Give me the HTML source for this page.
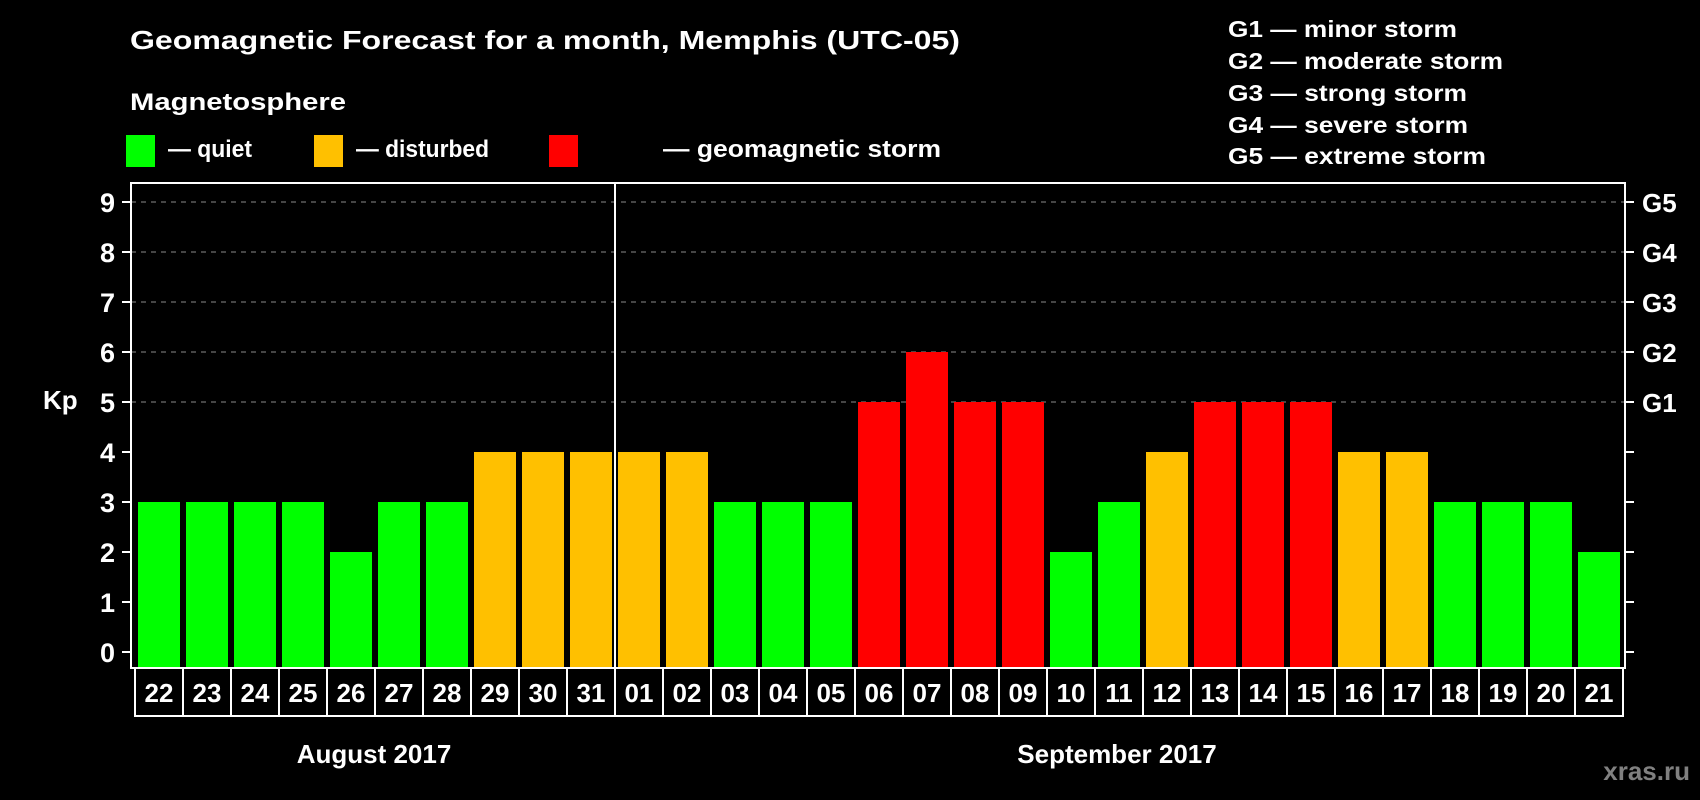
<!DOCTYPE html>
<html><head><meta charset="utf-8"><style>
html,body{margin:0;padding:0;background:#000;}
svg{display:block;font-family:"Liberation Sans",Arial,sans-serif;font-weight:bold;}
</style></head><body>
<svg id="chart" width="1700" height="800" viewBox="0 0 1700 800">
<rect x="0" y="0" width="1700" height="800" fill="#000"/>
<text x="130" y="49" font-size="26" fill="#fff" textLength="830" lengthAdjust="spacingAndGlyphs">Geomagnetic Forecast for a month, Memphis (UTC-05)</text>
<text x="130" y="110" font-size="24" fill="#fff" textLength="216" lengthAdjust="spacingAndGlyphs">Magnetosphere</text>
<g>
<rect x="126" y="135" width="29" height="32" fill="#00ff00"/>
<text x="168" y="157" font-size="24" fill="#fff" textLength="84" lengthAdjust="spacingAndGlyphs">— quiet</text></g>
<g>
<rect x="314" y="135" width="29" height="32" fill="#ffc000"/>
<text x="356" y="157" font-size="24" fill="#fff" textLength="133" lengthAdjust="spacingAndGlyphs">— disturbed</text></g>
<g>
<rect x="549" y="135" width="29" height="32" fill="#ff0000"/>
<text x="663" y="157" font-size="24" fill="#fff" textLength="278" lengthAdjust="spacingAndGlyphs">— geomagnetic storm</text></g>
<g font-size="23" fill="#fff">
<text x="1228" y="37" textLength="229" lengthAdjust="spacingAndGlyphs">G1 — minor storm</text>
<text x="1228" y="69" textLength="275" lengthAdjust="spacingAndGlyphs">G2 — moderate storm</text>
<text x="1228" y="101" textLength="239" lengthAdjust="spacingAndGlyphs">G3 — strong storm</text>
<text x="1228" y="133" textLength="240" lengthAdjust="spacingAndGlyphs">G4 — severe storm</text>
<text x="1228" y="164" textLength="258" lengthAdjust="spacingAndGlyphs">G5 — extreme storm</text>
</g>
<text x="43" y="409" font-size="26" fill="#fff">Kp</text>
<text x="374" y="763" font-size="26" fill="#fff" text-anchor="middle">August 2017</text>
<text x="1117" y="763" font-size="26" fill="#fff" text-anchor="middle">September 2017</text>
<text x="1690" y="780" font-size="26" fill="#808080" text-anchor="end">xras.ru</text>
<g id="plot"></g>
</svg>
<script>
const days = ["22","23","24","25","26","27","28","29","30","31","01","02","03","04","05","06","07","08","09","10","11","12","13","14","15","16","17","18","19","20","21"];
const kpValues = [3,3,3,3,2,3,3,4,4,4,4,4,3,3,3,5,6,5,5,2,3,4,5,5,5,4,4,3,3,3,2];
const yTicks = [0,1,2,3,4,5,6,7,8,9];
const gridLevels = [5,6,7,8,9];
const stormLabels = ["G1","G2","G3","G4","G5"];
const monthBoundaryIndex = 10;

const NS = "http://www.w3.org/2000/svg";
const plot = document.getElementById("plot");
const L = 131, R = 1625, T = 183, B = 668, X0 = 135, DW = 48;
function yScale(v){ return 652 - 50 * v; }
function xScale(i){ return X0 + i * DW; }
function mk(tag, attrs){ const e = document.createElementNS(NS, tag); for (const k in attrs) e.setAttribute(k, attrs[k]); plot.appendChild(e); return e; }
function colorFor(v){ return v >= 5 ? "#ff0000" : (v >= 4 ? "#ffc000" : "#00ff00"); }

gridLevels.forEach(v => {
  const g = mk("line", {x1: L, x2: R, y1: yScale(v), y2: yScale(v), stroke: "#8a8a8a", "stroke-width": 1, "stroke-dasharray": "5 5"});
  
  
});

kpValues.forEach((v, i) => {
  const b = mk("rect", {x: xScale(i) + 3, y: yScale(v), width: 42, height: 667 - yScale(v), fill: colorFor(v)});
  
  
});

yTicks.forEach(v => {
  const y = yScale(v);
  const t1 = mk("line", {x1: 122, x2: L, y1: y, y2: y, stroke: "#fff", "stroke-width": 2});
  
  
  const t2 = mk("line", {x1: R, x2: 1634, y1: y, y2: y, stroke: "#fff", "stroke-width": 2});
  
  
  const tl = mk("text", {x: 115, y: y + 10, "font-size": 27, fill: "#fff", "text-anchor": "end"});
  tl.textContent = String(v);
  
  
});

stormLabels.forEach((s, k) => {
  const t = mk("text", {x: 1642, y: yScale(5 + k) + 10, "font-size": 26, fill: "#fff"});
  t.textContent = s;
  
  
});

const frame = mk("path", {d: `M${L},${B} L${L},${T} L${R},${T} L${R},${B} Z`, fill: "none", stroke: "#fff", "stroke-width": 2});



const sep = mk("line", {x1: xScale(monthBoundaryIndex), x2: xScale(monthBoundaryIndex), y1: T, y2: B, stroke: "#fff", "stroke-width": 2});



days.forEach((d, i) => {
  const box = mk("rect", {x: xScale(i), y: B, width: DW, height: 48, fill: "none", stroke: "#fff", "stroke-width": 2});
  
  
  const t = mk("text", {x: xScale(i) + DW / 2, y: 702, "font-size": 26, fill: "#fff", "text-anchor": "middle"});
  t.textContent = d;
  
  
});
</script>
</body></html>
